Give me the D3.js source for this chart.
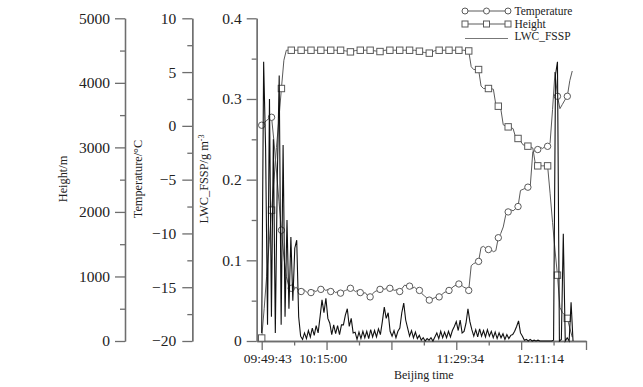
<!DOCTYPE html>
<html>
<head>
<meta charset="utf-8">
<script src="https://cdn.jsdelivr.net/npm/d3@7"></script>
<style>
body { margin: 0; background: #fff; }
text { font-family: "Liberation Serif", "Times New Roman", serif; fill: #222; }
</style>
</head>
<body>
<svg id="chart" width="643" height="387"></svg>
<script>
// x runs in tick units (one unit per tick of the time axis); series are sampled at a fixed step
var xMajorTicks = [0, 2, 4, 6, 8, 10]
var xMinorTicks = [1, 3, 5, 7, 9]
var xTickLabels = ["09:49:43", "10:15:00", "11:29:34", "12:11:14"]
var xTickLabelAt = [0.19, 1.9, 6.12, 8.59]

var heightTicks = [0, 1000, 2000, 3000, 4000, 5000]
var tempTicks = [-20, -15, -10, -5, 0, 5, 10]
var lwcTicks = [0, 0.1, 0.2, 0.3, 0.4]

// LWC_FSSP, g m-3
var lwcStep = 0.06
var lwc = [
  0.01, 0.346, 0.24, 0.02, 0.30, 0.03, 0.25, 0.01, 0.20, 0.329,
  0.02, 0.243, 0.03, 0.15, 0.04, 0.129, 0.05, 0.115, 0.125, 0.03,
  0.006, 0.002, 0.010, 0.003, 0.013, 0.005, 0.016, 0.007, 0.019, 0.010,
  0.030, 0.051, 0.035, 0.053, 0.028, 0.022, 0.008, 0.020, 0.009, 0.019,
  0.008, 0.020, 0.020, 0.032, 0.040, 0.018, 0.028, 0.010, 0.011, 0.002,
  0.011, 0.003, 0.012, 0.004, 0.012, 0.003, 0.014, 0.005, 0.013, 0.005,
  0.015, 0.008, 0.024, 0.042, 0.028, 0.035, 0.012, 0.006, 0.013, 0.004,
  0.012, 0.016, 0.035, 0.047, 0.026, 0.016, 0.006, 0.013, 0.004, 0.011,
  0.003, 0.007, 0.001, 0.004, 0, 0.003, 0.001, 0.004, 0, 0.005,
  0.010, 0.003, 0.012, 0.004, 0.011, 0.004, 0.012, 0.005, 0.013, 0.018,
  0.024, 0.013, 0.026, 0.010, 0.012, 0.022, 0.040, 0.024, 0.014, 0.006,
  0.014, 0.005, 0.015, 0.006, 0.013, 0.005, 0.014, 0.006, 0.012, 0.004,
  0.011, 0.003, 0.010, 0.004, 0.009, 0.002, 0.008, 0.003, 0.007, 0.008,
  0.012, 0.018, 0.025, 0.010, 0.006, 0.001, 0.002, 0, 0.002, 0,
  0.001, 0, 0.001, 0, 0, 0, 0, 0, 0, 0,
  0.001, 0.33, 0.346, 0, 0.002, 0.133, 0, 0.004, 0, 0.048, 0
]

// temperature (°C) and height (m), sampled every profStep, a marker on every 4th sample
var profStep = 0.076
var markEvery = 4
var temperature = [
  0.06, 0.3, 0.5, 0.7, 0.8, -1.5, -4.2, -7.0, -9.7, -12.2,
  -14.0, -14.9, -15.1, -15.2, -15.0, -15.3, -15.4, -15.2, -15.4, -15.6,
  -15.5, -15.3, -15.4, -15.2, -15.2, -15.1, -15.3, -15.2, -15.4, -15.3,
  -15.5, -15.4, -15.55, -15.4, -15.3, -15.2, -15.1, -15.2, -15.4, -15.3,
  -15.5, -15.6, -15.5, -15.8, -15.9, -15.6, -15.4, -15.3, -15.2, -15.1,
  -15.2, -15.0, -15.1, -15.2, -15.3, -15.2, -15.4, -15.1, -14.8, -14.9,
  -14.9, -15.1, -15.0, -15.2, -15.3, -15.6, -15.8, -16.0, -16.2, -16.1,
  -16.0, -15.9, -15.9, -15.7, -15.5, -15.4, -15.3, -15.1, -14.9, -14.8,
  -14.7, -14.8, -15.0, -15.1, -15.3, -13.0, -12.8, -12.7, -12.6, -11.3,
  -11.2, -11.4, -11.5, -11.5, -11.7, -11.6, -10.4, -10.0, -9.4, -8.3,
  -8.0, -7.8, -7.9, -7.7, -7.5, -6.0, -5.9, -5.8, -5.7, -5.5,
  -2.4, -2.3, -2.2, -2.0, -2.1, -1.9, -1.9, -1.6, 1.5, 5.0,
  2.75, 1.6, 2.0, 2.4, 2.75, 4.2, 5.1
]
var height = [
  46, 500, 1000, 1500, 2028, 2500, 3000, 3450, 3912, 4350,
  4505, 4505, 4505, 4505, 4505, 4505, 4505, 4505, 4505, 4505,
  4505, 4505, 4505, 4505, 4505, 4505, 4505, 4505, 4505, 4505,
  4505, 4505, 4505, 4500, 4495, 4490, 4480, 4490, 4500, 4505,
  4505, 4505, 4505, 4505, 4505, 4500, 4495, 4490, 4485, 4495,
  4505, 4505, 4505, 4505, 4505, 4505, 4505, 4505, 4505, 4505,
  4505, 4505, 4505, 4500, 4490, 4480, 4470, 4465, 4460, 4475,
  4495, 4505, 4505, 4505, 4505, 4505, 4505, 4505, 4505, 4505,
  4505, 4505, 4505, 4500, 4494, 4250, 4206, 4206, 4206, 3950,
  3912, 3912, 3912, 3912, 3900, 3660, 3638, 3600, 3350, 3330,
  3318, 3310, 3290, 3160, 3138, 3100, 3040, 3030, 3019, 3010,
  2990, 2750, 2714, 2714, 2714, 2714, 2714, 2290, 1840, 1410,
  1020, 520, 440, 400, 351, 200, 60
]

var svg = d3.select("#chart")
var axisColor = "#6e6e6e"
var lineColor = "#5a5a5a"

var x = d3.scaleLinear().domain([-0.154, 10]).range([256.7, 586])
var yH = d3.scaleLinear().domain([0, 5000]).range([341, 18.3])
var yT = d3.scaleLinear().domain([-20, 10]).range([341, 18.3])
var yL = d3.scaleLinear().domain([0, 0.4]).range([341, 18.3])

var minorOf = (ticks) => ticks.slice(1).map((t, i) => (t + ticks[i]) / 2)

var drawYAxis = (scale, xPos, ticks, fmt, pad) => {
  var g = svg.append("g").attr("transform", "translate(" + xPos + ",0)")
  g.call(d3.axisLeft(scale).tickValues(ticks).tickSize(10).tickSizeOuter(0)
    .tickPadding(pad).tickFormat(fmt))
  g.append("g").call(d3.axisLeft(scale).tickValues(minorOf(ticks)).tickSize(5)
    .tickSizeOuter(0).tickFormat(""))
  g.selectAll("path, line").attr("stroke", axisColor).attr("stroke-width", 1.3)
  g.selectAll("text").attr("font-size", "15.5px")
    .attr("font-family", "'Liberation Serif', 'Times New Roman', serif").attr("fill", "#222")
  return g
}

drawYAxis(yH, 125, heightTicks, d3.format("d"), 5)
drawYAxis(yT, 192.3, tempTicks, d3.format("d"), 6)
drawYAxis(yL, 256.7, lwcTicks, (d) => d === 0 ? "0" : d.toFixed(1), 5)

// x axis
var gx = svg.append("g").attr("transform", "translate(0,341)")
gx.call(d3.axisBottom(x).tickValues(xMajorTicks).tickSize(9).tickSizeOuter(0).tickFormat(""))
gx.append("g").call(d3.axisBottom(x).tickValues(xMinorTicks).tickSize(4.5).tickSizeOuter(0).tickFormat(""))
gx.selectAll("path, line").attr("stroke", axisColor).attr("stroke-width", 1.3)

svg.selectAll(".xlab")
  .data(xTickLabels)
  .enter()
  .append("text")
  .attr("class", "xlab")
  .attr("x", (d, i) => x(xTickLabelAt[i]))
  .attr("y", 363.3)
  .attr("text-anchor", "middle")
  .attr("font-size", "13.5px")
  .text((d) => d)

svg.append("text").attr("x", x(5)).attr("y", 379)
  .attr("text-anchor", "middle").attr("font-size", "12px").text("Beijing time")

// axis titles
var yTitle = (xPos, label) => svg.append("text")
  .attr("transform", "translate(" + xPos + ",179) rotate(-90)")
  .attr("text-anchor", "middle").attr("font-size", "12.3px").text(label)

yTitle(66.5, "Height/m")
yTitle(141.5, "Temperature/°C")
var lwcTitle = yTitle(208, "LWC_FSSP/g m")
lwcTitle.append("tspan").attr("dy", "-0.45em").attr("font-size", "8px").text("-3")

// series
var tempLine = d3.line().x((d, i) => x(i * profStep)).y((d) => yT(d))
var heightLine = d3.line().x((d, i) => x(i * profStep)).y((d) => yH(d))
var lwcLine = d3.line().x((d, i) => x(i * lwcStep)).y((d) => yL(d))

svg.append("path").attr("d", tempLine(temperature))
  .attr("fill", "none").attr("stroke", lineColor).attr("stroke-width", 1)
svg.append("path").attr("d", heightLine(height))
  .attr("fill", "none").attr("stroke", lineColor).attr("stroke-width", 1)

var tempMarks = temperature.map((d, i) => [i, d]).filter((p) => p[0] % markEvery === 0)
var heightMarks = height.map((d, i) => [i, d]).filter((p) => p[0] % markEvery === 0)

svg.selectAll(".tmark")
  .data(tempMarks)
  .enter()
  .append("circle")
  .attr("class", "tmark")
  .attr("cx", (p) => x(p[0] * profStep))
  .attr("cy", (p) => yT(p[1]))
  .attr("r", 3.2)
  .attr("fill", "#fff").attr("stroke", lineColor).attr("stroke-width", 1)

svg.selectAll(".hmark")
  .data(heightMarks)
  .enter()
  .append("rect")
  .attr("class", "hmark")
  .attr("x", (p) => x(p[0] * profStep) - 3.2)
  .attr("y", (p) => yH(p[1]) - 3.2)
  .attr("width", 6.4).attr("height", 6.4)
  .attr("fill", "#fff").attr("stroke", lineColor).attr("stroke-width", 1)

svg.append("path").attr("d", lwcLine(lwc))
  .attr("fill", "none").attr("stroke", "#111").attr("stroke-width", 1.1)
  .attr("stroke-linejoin", "miter")

// legend
var legend = svg.append("g")
var legendRows = [
  {name: "Temperature", y: 11, mark: "circle"},
  {name: "Height", y: 24, mark: "square"},
  {name: "LWC_FSSP", y: 36, mark: "none"}
]
legendRows.forEach((row) => {
  var ly = row.mark === "none" ? row.y + 2.5 : row.y
  legend.append("line").attr("x1", 465).attr("x2", 508).attr("y1", ly).attr("y2", ly)
    .attr("stroke", row.mark === "none" ? "#777" : lineColor).attr("stroke-width", 1)
  ;[465, 486.5, 508].forEach((mx) => {
    if (row.mark === "circle") {
      legend.append("circle").attr("cx", mx).attr("cy", row.y).attr("r", 3)
        .attr("fill", "#fff").attr("stroke", lineColor)
    } else if (row.mark === "square") {
      legend.append("rect").attr("x", mx - 3).attr("y", row.y - 3).attr("width", 6).attr("height", 6)
        .attr("fill", "#fff").attr("stroke", lineColor)
    }
  })
  legend.append("text").attr("x", 514.5).attr("y", row.y).attr("dy", "0.35em")
    .attr("font-size", "11.5px").text(row.name)
})
</script>
</body>
</html>
